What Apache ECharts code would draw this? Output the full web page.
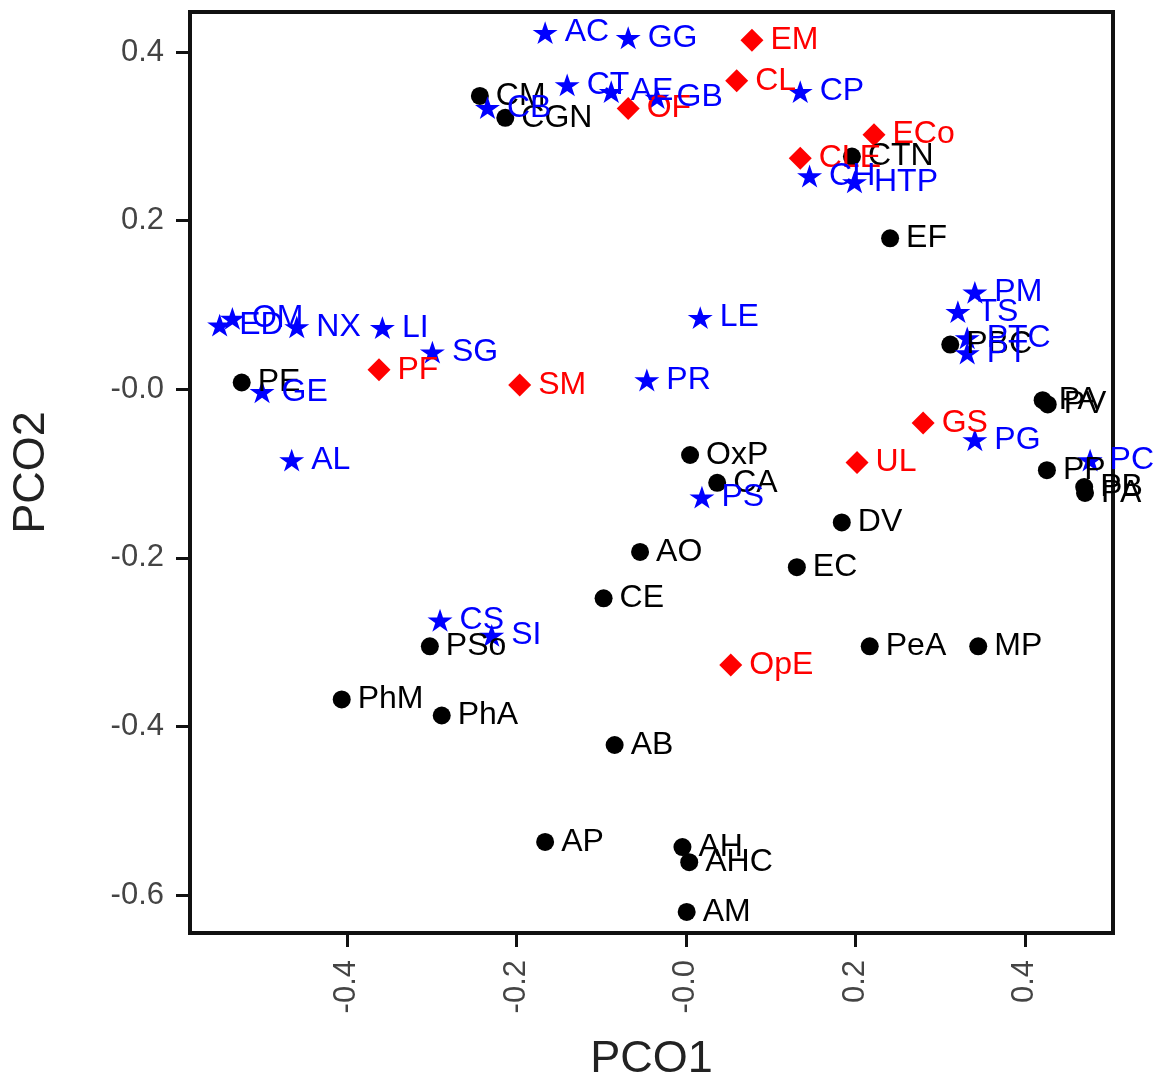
<!DOCTYPE html>
<html>
<head>
<meta charset="utf-8">
<script src="https://cdn.jsdelivr.net/npm/echarts@6/dist/echarts.min.js"></script>
<style>
html,body{margin:0;padding:0;background:#fff;}
#chart{width:1171px;height:1084px;}
</style>
</head>
<body>
<div id="chart"></div>
<script>
// ---- data ----
var blackNames = ["CM","CGN","CTN","EF","PE","PBC","PA","PV","PP","PB","PA","OxP","CA","DV","AO","EC","CE","PeA","MP","AB","AH","AHC","AM","AP","PSo","PhM","PhA"];
var blackX = [-0.243,-0.213,0.196,0.241,-0.524,0.312,0.421,0.427,0.426,0.470,0.471,0.005,0.037,0.184,-0.054,0.131,-0.097,0.217,0.345,-0.084,-0.004,0.004,0.001,-0.166,-0.302,-0.406,-0.288];
var blackY = [0.348,0.322,0.276,0.179,0.008,0.053,-0.013,-0.018,-0.096,-0.116,-0.123,-0.078,-0.111,-0.158,-0.193,-0.211,-0.248,-0.305,-0.305,-0.422,-0.543,-0.561,-0.620,-0.537,-0.305,-0.368,-0.387];

var blueNames = ["AC","GG","CT","AE","GB","CP","CB","CH","HTP","PM","TS","PTC","PT","PG","PC","LE","PR","PS","LI","SG","NX","ED","OM","GE","AL","CS","SI"];
var blueX = [-0.166,-0.068,-0.140,-0.088,-0.034,0.135,-0.234,0.146,0.199,0.341,0.321,0.332,0.332,0.341,0.477,0.017,-0.046,0.019,-0.358,-0.299,-0.459,-0.550,-0.535,-0.500,-0.465,-0.290,-0.229];
var blueY = [0.423,0.417,0.361,0.353,0.346,0.353,0.334,0.253,0.246,0.115,0.092,0.061,0.043,-0.060,-0.084,0.085,0.011,-0.128,0.073,0.044,0.074,0.076,0.084,-0.003,-0.084,-0.274,-0.292];

var redNames = ["EM","CL","OF","ECo","CLE","PF","SM","GS","UL","OpE"];
var redX = [0.078,0.060,-0.068,0.222,0.135,-0.362,-0.196,0.280,0.202,0.053];
var redY = [0.414,0.366,0.333,0.302,0.274,0.023,0.005,-0.040,-0.087,-0.327];

var xTickValues = [-0.4,-0.2,0,0.2,0.4];
var xTickLabels = ["-0.4","-0.2","-0.0","0.2","0.4"];
var yTickValues = [0.4,0.2,0,-0.2,-0.4,-0.6];
var yTickLabels = ["0.4","0.2","-0.0","-0.2","-0.4","-0.6"];

// ---- build ----
function pts(names, xs, ys){
  return names.map(function(n,i){ return {name:n, value:[xs[i], ys[i]]}; });
}
function lab(values, labels){
  return function(v){
    for (var i=0;i<values.length;i++){ if (Math.abs(values[i]-v)<1e-6) return labels[i]; }
    return '';
  };
}
var starPath = 'path://M100,0 L122.45,69.1 L195.1,69.1 L136.3,111.8 L158.8,180.9 L100,138.2 L41.2,180.9 L63.7,111.8 L4.9,69.1 L77.55,69.1 Z';
var FONT = 'Liberation Sans, Arial, sans-serif';

function series(data, color, symbol, size){
  return {
    type:'scatter',
    data:data,
    symbol:symbol,
    symbolSize:size,
    symbolKeepAspect:true,
    itemStyle:{color:color, opacity:1},
    label:{
      show:true, position:'right', distance:7,
      formatter:'{b}', color:color, fontSize:32, fontFamily:FONT
    },
    emphasis:{disabled:true},
    animation:false
  };
}

var chart = echarts.init(document.getElementById('chart'), null, {renderer:'canvas'});
chart.setOption({
  backgroundColor:'#fff',
  animation:false,
  grid:{left:190, top:12, width:923, height:921, show:true, borderColor:'#111', borderWidth:4, backgroundColor:'transparent', containLabel:false, outerBoundsMode:'none'},
  xAxis:{
    type:'value', min:-0.585, max:0.504,
    name:'PCO1', nameLocation:'middle', nameGap:104,
    nameTextStyle:{fontSize:45, color:'#222', fontFamily:FONT},
    axisLine:{show:false, onZero:false},
    axisTick:{show:true, inside:false, length:14, lineStyle:{color:'#111', width:3}, customValues:xTickValues},
    axisLabel:{show:true, rotate:90, margin:27, fontSize:31, color:'#444', fontFamily:FONT, customValues:xTickValues, formatter:lab(xTickValues,xTickLabels)},
    splitLine:{show:false}
  },
  yAxis:{
    type:'value', min:-0.645, max:0.4475,
    name:'PCO2', nameLocation:'middle', nameGap:136, nameRotate:90,
    nameTextStyle:{fontSize:45, color:'#222', fontFamily:FONT},
    axisLine:{show:false, onZero:false},
    axisTick:{show:true, inside:false, length:14, lineStyle:{color:'#111', width:3}, customValues:yTickValues},
    axisLabel:{show:true, margin:26, fontSize:31, color:'#444', fontFamily:FONT, customValues:yTickValues, formatter:lab(yTickValues,yTickLabels)},
    splitLine:{show:false}
  },
  series:[
    series(pts(blackNames,blackX,blackY), '#000000', 'circle', 18),
    series(pts(redNames,redX,redY), '#ff0000', 'diamond', [23,23]),
    series(pts(blueNames,blueX,blueY), '#0000ff', starPath, [25,24])
  ]
});
</script>
</body>
</html>
